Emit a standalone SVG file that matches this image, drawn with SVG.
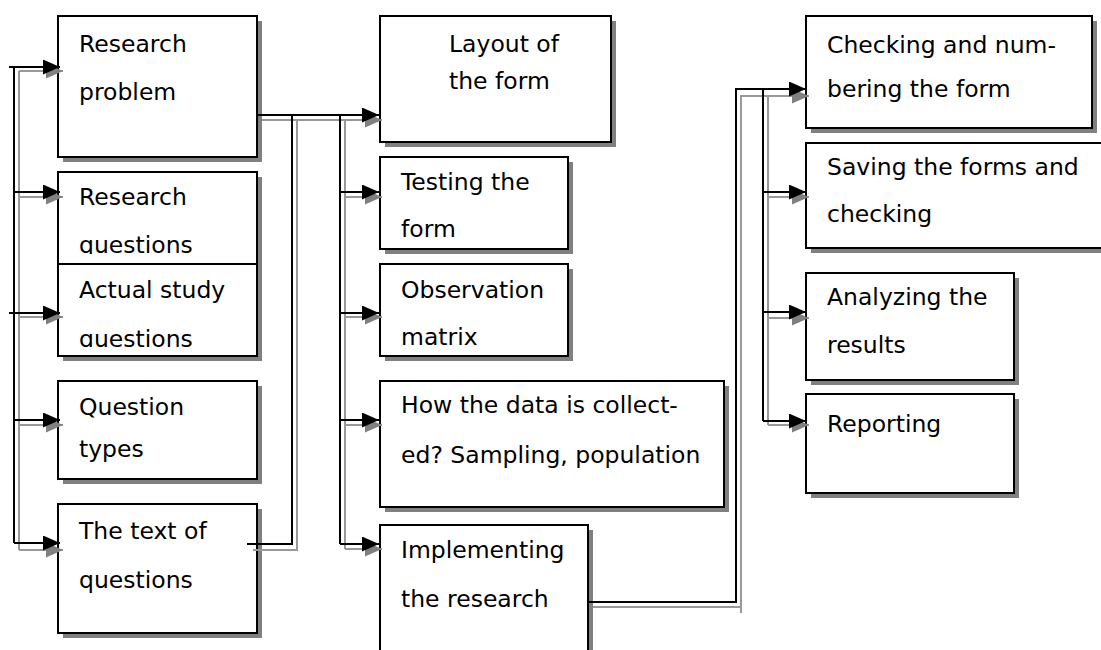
<svg xmlns="http://www.w3.org/2000/svg" width="1101" height="650" viewBox="0 0 1101 650">
<style>
.box{fill:#fff;stroke:#000;stroke-width:2}
.sh{fill:#808080}
.t{font-family:"DejaVu Sans",Verdana,sans-serif;font-size:23.5px;fill:#000}
.k{fill:none;stroke:#000;stroke-width:2}
.g{fill:none;stroke:#999;stroke-width:2}
</style>
<defs>
<marker id="ab" viewBox="0 0 17 15" markerWidth="17" markerHeight="15" refX="17" refY="7.5" orient="auto" markerUnits="userSpaceOnUse"><path d="M0,0 L17,7.5 L0,15 z" fill="#000"/></marker>
<marker id="ag" viewBox="0 0 17 15" markerWidth="17" markerHeight="15" refX="17" refY="7.5" orient="auto" markerUnits="userSpaceOnUse"><path d="M0,0 L17,7.5 L0,15 z" fill="#808080"/></marker>
<clipPath id="c2"><rect x="58" y="172" width="200" height="82"/></clipPath>
<clipPath id="c3"><rect x="58" y="264" width="200" height="83"/></clipPath>
</defs>
<rect width="1101" height="650" fill="#fff"/>

<g id="n1"><rect class="sh" x="63" y="21" width="199" height="141"/><rect class="box" x="58" y="16" width="199" height="141"/><text class="t" x="79" y="52">Research</text><text class="t" x="79" y="100">problem</text></g>
<g id="n2"><rect class="sh" x="63" y="177" width="199" height="92"/><rect class="box" x="58" y="172" width="199" height="92"/><g clip-path="url(#c2)"><text class="t" x="79" y="205">Research</text><text class="t" x="79" y="253">questions</text></g></g>
<g id="n3"><rect class="sh" x="63" y="269" width="199" height="92"/><rect class="box" x="58" y="264" width="199" height="92"/><g clip-path="url(#c3)"><text class="t" x="79" y="298">Actual study</text><text class="t" x="79" y="347">questions</text></g></g>
<g id="n4"><rect class="sh" x="63" y="386" width="199" height="98"/><rect class="box" x="58" y="381" width="199" height="98"/><text class="t" x="79" y="415">Question</text><text class="t" x="79" y="457">types</text></g>
<g id="n5"><rect class="sh" x="63" y="509" width="199" height="129"/><rect class="box" x="58" y="504" width="199" height="129"/><text class="t" x="79" y="539">The text of</text><text class="t" x="79" y="588">questions</text></g>

<g id="n6"><rect class="sh" x="385" y="21" width="231" height="126"/><rect class="box" x="380" y="16" width="231" height="126"/><text class="t" x="449" y="52">Layout of</text><text class="t" x="449" y="89">the form</text></g>
<g id="n7"><rect class="sh" x="385" y="162" width="188" height="92"/><rect class="box" x="380" y="157" width="188" height="92"/><text class="t" x="401" y="190">Testing the</text><text class="t" x="401" y="237">form</text></g>
<g id="n8"><rect class="sh" x="385" y="269" width="188" height="92"/><rect class="box" x="380" y="264" width="188" height="92"/><text class="t" x="401" y="298">Observation</text><text class="t" x="401" y="345">matrix</text></g>
<g id="n9"><rect class="sh" x="385" y="386" width="344" height="126"/><rect class="box" x="380" y="381" width="344" height="126"/><text class="t" x="401" y="413">How the data is collect-</text><text class="t" x="401" y="463">ed? Sampling, population</text></g>
<g id="n10"><rect class="sh" x="385" y="530" width="208" height="140"/><rect class="box" x="380" y="525" width="208" height="140"/><text class="t" x="401" y="558">Implementing</text><text class="t" x="401" y="607">the research</text></g>

<g id="n11"><rect class="sh" x="811" y="21" width="286" height="112"/><rect class="box" x="806" y="16" width="286" height="112"/><text class="t" x="827" y="53">Checking and num-</text><text class="t" x="827" y="97">bering the form</text></g>
<g id="n12"><rect class="sh" x="811" y="148" width="300" height="105"/><rect class="box" x="806" y="143" width="300" height="105"/><text class="t" x="827" y="175">Saving the forms and</text><text class="t" x="827" y="222">checking</text></g>
<g id="n13"><rect class="sh" x="811" y="278" width="208" height="107"/><rect class="box" x="806" y="273" width="208" height="107"/><text class="t" x="827" y="305">Analyzing the</text><text class="t" x="827" y="353">results</text></g>
<g id="n14"><rect class="sh" x="811" y="399" width="208" height="99"/><rect class="box" x="806" y="394" width="208" height="99"/><text class="t" x="827" y="432">Reporting</text></g>

<g id="connectors">
<path class="g" d="M19,71 V550"/>
<path class="g" d="M19,71 H63" marker-end="url(#ag)"/>
<path class="g" d="M19,197 H63" marker-end="url(#ag)"/>
<path class="g" d="M19,317 H63" marker-end="url(#ag)"/>
<path class="g" d="M19,425 H63" marker-end="url(#ag)"/>
<path class="g" d="M19,550 H63" marker-end="url(#ag)"/>
<path class="k" d="M14,67 V543"/>
<path class="k" d="M9,67 H60" marker-end="url(#ab)"/>
<path class="k" d="M14,192 H60" marker-end="url(#ab)"/>
<path class="k" d="M9,313 H60" marker-end="url(#ab)"/>
<path class="k" d="M14,420 H60" marker-end="url(#ab)"/>
<path class="k" d="M14,543 H60" marker-end="url(#ab)"/>

<path class="g" d="M253,550 H297 V120"/>
<path class="g" d="M262,120 H382" marker-end="url(#ag)"/>
<path class="g" d="M345,120 V549"/>
<path class="g" d="M345,197 H382" marker-end="url(#ag)"/>
<path class="g" d="M345,317 H382" marker-end="url(#ag)"/>
<path class="g" d="M345,425 H382" marker-end="url(#ag)"/>
<path class="g" d="M345,549 H382" marker-end="url(#ag)"/>
<path class="k" d="M247,544 H292 V115"/>
<path class="k" d="M257,115 H379" marker-end="url(#ab)"/>
<path class="k" d="M340,115 V544"/>
<path class="k" d="M340,192 H379" marker-end="url(#ab)"/>
<path class="k" d="M340,313 H379" marker-end="url(#ab)"/>
<path class="k" d="M340,420 H379" marker-end="url(#ab)"/>
<path class="k" d="M340,544 H379" marker-end="url(#ab)"/>

<path class="g" d="M593,607 H741"/>
<path class="g" d="M741,613 V96 H809" marker-end="url(#ag)"/>
<path class="g" d="M768,96 V425"/>
<path class="g" d="M768,197 H809" marker-end="url(#ag)"/>
<path class="g" d="M768,318 H809" marker-end="url(#ag)"/>
<path class="g" d="M768,425 H809" marker-end="url(#ag)"/>
<path class="k" d="M588,602 H736 V89 H806" marker-end="url(#ab)"/>
<path class="k" d="M763,89 V421"/>
<path class="k" d="M763,192 H806" marker-end="url(#ab)"/>
<path class="k" d="M763,312 H806" marker-end="url(#ab)"/>
<path class="k" d="M763,421 H806" marker-end="url(#ab)"/>
</g>
</svg>
